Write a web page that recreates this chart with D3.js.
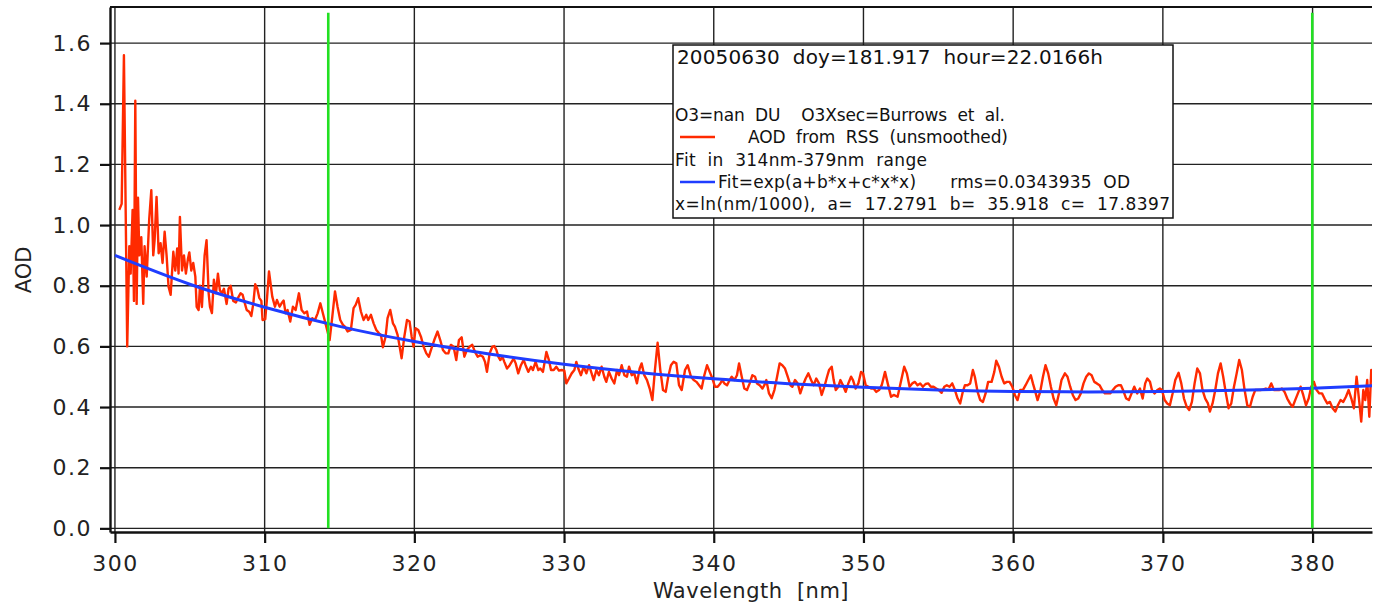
<!DOCTYPE html>
<html>
<head>
<meta charset="utf-8">
<script src="https://cdn.jsdelivr.net/npm/d3@7"></script>
<style>
  body { margin: 0; background: #fff; }
  svg { display: block; font-family: "DejaVu Sans", sans-serif; }
</style>
</head>
<body>
<div id="chart"></div>
<script>
// AOD from RSS (unsmoothed), [wavelength nm, AOD]
const rss = [
  [300.29,1.05],[300.45,1.07],[300.60,1.56],[300.82,0.60],[300.96,0.93],[301.05,0.84],[301.18,1.05],[301.27,0.75],
  [301.36,1.41],[301.45,0.74],[301.54,1.09],[301.63,0.90],[301.76,0.96],[301.89,0.74],[301.98,0.93],[302.12,0.83],
  [302.29,1.02],[302.43,1.115],[302.56,0.90],[302.65,0.95],[302.78,1.093],[302.92,0.907],[303.05,0.94],[303.18,0.875],
  [303.32,0.978],[303.45,0.90],[303.58,0.797],[303.72,0.77],[303.90,0.912],[304.03,0.85],[304.16,0.923],[304.25,0.84],
  [304.34,1.027],[304.48,0.85],[304.61,0.90],[304.74,0.84],[304.88,0.89],[304.97,0.91],[305.10,0.85],[305.23,0.875],
  [305.37,0.83],[305.46,0.73],[305.59,0.72],[305.68,0.80],[305.81,0.73],[305.99,0.90],[306.12,0.95],[306.26,0.775],
  [306.35,0.73],[306.48,0.71],[306.61,0.82],[306.75,0.775],[306.88,0.84],[307.01,0.785],[307.15,0.775],[307.28,0.79],
  [307.46,0.74],[307.59,0.79],[307.73,0.80],[307.90,0.75],[308.08,0.745],[308.22,0.76],[308.39,0.775],[308.53,0.77],
  [308.66,0.745],[308.80,0.72],[308.97,0.714],[309.11,0.70],[309.24,0.74],[309.37,0.805],[309.51,0.79],[309.64,0.76],
  [309.78,0.75],[309.86,0.687],[310.04,0.69],
  [310.16,0.76],[310.29,0.847],[310.51,0.764],[310.69,0.731],[310.82,0.753],[311.00,0.731],[311.13,0.742],[311.27,0.751],
  [311.40,0.709],[311.53,0.720],[311.71,0.682],[311.89,0.731],[312.07,0.720],[312.29,0.775],[312.47,0.720],[312.65,0.709],
  [312.83,0.715],[313.00,0.671],[313.18,0.693],[313.36,0.687],[313.54,0.709],[313.72,0.742],[313.89,0.709],[314.12,0.665],
  [314.34,0.621],[314.52,0.698],[314.70,0.781],[314.87,0.731],[315.05,0.687],[315.23,0.671],[315.36,0.665],[315.54,0.649],
  [315.76,0.654],[315.94,0.726],[316.08,0.737],[316.25,0.759],[316.43,0.715],[316.61,0.687],[316.79,0.704],[316.92,0.687],
  [317.10,0.704],[317.28,0.676],[317.46,0.654],[317.64,0.643],[317.77,0.638],[317.90,0.597],[318.08,0.632],[318.21,0.693],
  [318.39,0.720],[318.57,0.676],[318.70,0.665],[318.88,0.638],[319.02,0.599],[319.15,0.561],[319.33,0.632],[319.51,0.687],
  [319.68,0.682],[319.82,0.632],[319.95,0.599],[320.08,0.660],[320.26,0.654],[320.44,0.632],[320.62,0.599],[320.80,0.577],
  [320.97,0.566],[321.15,0.594],[321.33,0.621],[321.55,0.649],[321.73,0.621],[321.91,0.588],[322.09,0.577],[322.27,0.577],
  [322.44,0.605],[322.62,0.599],[322.80,0.555],[322.98,0.621],[323.16,0.630],[323.34,0.566],[323.51,0.588],[323.69,0.599],
  [323.87,0.605],
  [324.05,0.582],[324.23,0.566],[324.41,0.571],[324.58,0.566],[324.72,0.549],[324.85,0.516],[325.03,0.577],[325.21,0.599],
  [325.34,0.601],[325.48,0.588],[325.61,0.566],[325.74,0.555],[325.88,0.566],[326.01,0.549],[326.19,0.527],[326.37,0.538],
  [326.50,0.549],[326.63,0.560],[326.77,0.544],[326.94,0.511],[327.12,0.538],[327.30,0.555],[327.43,0.538],[327.61,0.516],
  [327.79,0.533],[327.92,0.522],[328.10,0.549],[328.28,0.522],[328.41,0.527],[328.59,0.516],[328.82,0.582],[328.99,0.555],
  [329.13,0.522],[329.31,0.522],[329.48,0.533],[329.66,0.520],[329.84,0.522],[330.02,0.520],[330.15,0.478],[330.33,0.494],
  [330.51,0.511],[330.69,0.522],[330.82,0.549],[330.95,0.527],[331.13,0.505],[331.31,0.533],[331.49,0.511],[331.67,0.538],
  [331.84,0.511],[331.98,0.489],[332.16,0.522],[332.33,0.505],[332.51,0.533],[332.69,0.500],[332.82,0.483],[333.00,0.516],
  [333.18,0.494],[333.36,0.478],[333.54,0.522],[333.67,0.505],[333.85,0.538],[334.03,0.505],[334.20,0.500],[334.34,0.533],
  [334.52,0.505],[334.69,0.511],[334.87,0.478],[335.05,0.527],[335.18,0.544],[335.36,0.505],[335.54,0.489],[335.72,0.461],
  [335.90,0.423],[336.07,0.522],[336.25,0.612],[336.43,0.522],[336.61,0.456],[336.79,0.450],[336.96,0.500],[337.14,0.538],
  [337.32,0.549],[337.50,0.544],[337.68,0.472],[337.86,0.456],[338.08,0.522],[338.26,0.538],
  [338.48,0.500],[338.66,0.489],[338.84,0.483],[339.02,0.472],[339.19,0.461],[339.37,0.505],[339.55,0.538],[339.73,0.516],
  [339.91,0.494],[340.08,0.467],[340.26,0.467],[340.44,0.478],[340.57,0.489],[340.71,0.478],[340.89,0.472],[341.06,0.489],
  [341.20,0.500],[341.38,0.489],[341.55,0.505],[341.69,0.544],[341.87,0.500],[342.04,0.461],[342.22,0.456],[342.40,0.478],
  [342.58,0.505],[342.76,0.500],[342.89,0.478],[343.07,0.472],[343.25,0.461],[343.38,0.472],[343.51,0.489],[343.69,0.445],
  [343.87,0.429],[344.05,0.456],[344.23,0.500],[344.40,0.544],[344.58,0.538],[344.76,0.527],[344.94,0.500],[345.12,0.472],
  [345.25,0.467],[345.43,0.489],[345.61,0.478],[345.78,0.445],[345.96,0.472],[346.14,0.494],[346.32,0.511],[346.50,0.489],
  [346.67,0.472],[346.85,0.494],[347.03,0.478],[347.21,0.440],[347.39,0.467],[347.57,0.500],[347.70,0.522],[347.88,0.533],
  [348.01,0.489],[348.15,0.456],[348.32,0.467],[348.46,0.489],[348.63,0.472],[348.81,0.450],[348.99,0.478],[349.17,0.500],
  [349.30,0.489],[349.48,0.461],[349.66,0.478],[349.84,0.516],[349.97,0.511],[350.15,0.472],[350.33,0.467],[350.51,0.461],
  [350.68,0.461],[350.86,0.450],[351.04,0.456],[351.22,0.472],[351.44,0.516],[351.62,0.478],[351.84,0.434],[352.02,0.440],
  [352.28,0.434],[352.72,0.533],[352.90,0.511],[353.08,0.467],[353.26,0.478],[353.44,0.483],[353.61,0.472],[353.79,0.478],
  [353.97,0.467],[354.15,0.476],[354.33,0.478],[354.50,0.467],[354.68,0.467],[354.86,0.461],[355.04,0.456],[355.22,0.447],
  [355.40,0.467],[355.57,0.472],[355.75,0.467],[355.93,0.478],[356.11,0.456],[356.29,0.428],[356.46,0.412],[356.64,0.451],
  [356.78,0.472],[356.95,0.472],[357.13,0.478],[357.31,0.522],[357.44,0.500],[357.62,0.451],[357.80,0.423],[357.98,0.417],
  [358.16,0.445],[358.33,0.483],[358.56,0.483],[358.74,0.516],[358.87,0.553],[359.05,0.533],[359.23,0.500],[359.40,0.478],
  [359.58,0.483],[359.76,0.483],[359.94,0.467],[360.12,0.439],[360.29,0.423],[360.47,0.456],[360.65,0.456],[360.83,0.472],
  [361.01,0.489],[361.18,0.505],[361.32,0.478],[361.45,0.456],[361.63,0.423],[361.81,0.451],[361.99,0.500],[362.16,0.538],
  [362.34,0.511],[362.52,0.467],[362.70,0.428],[362.88,0.406],[363.06,0.445],[363.23,0.489],[363.46,0.511],[363.63,0.500],
  [363.81,0.467],[363.99,0.439],[364.17,0.423],[364.35,0.428],[364.52,0.445],[364.70,0.478],[364.88,0.500],[365.06,0.511],
  [365.24,0.505],[365.42,0.483],[365.59,0.478],[365.77,0.472],[365.95,0.456],[366.13,0.445],[366.31,0.445],[366.48,0.445],
  [366.66,0.456],[366.84,0.467],[367.02,0.472],[367.20,0.472],[367.38,0.451],[367.55,0.428],[367.73,0.423],[367.91,0.445],
  [368.09,0.467],
  [368.29,0.445],[368.47,0.461],[368.65,0.428],[368.82,0.478],[368.96,0.494],[369.14,0.483],[369.27,0.456],[369.45,0.445],
  [369.63,0.456],[369.80,0.461],[369.94,0.456],[370.12,0.423],[370.29,0.412],[370.47,0.406],[370.65,0.445],[370.83,0.489],
  [371.05,0.513],[371.23,0.478],[371.41,0.428],[371.59,0.401],[371.76,0.390],[371.94,0.417],[372.12,0.478],[372.30,0.527],
  [372.48,0.511],[372.65,0.456],[372.83,0.428],[373.01,0.412],[373.14,0.385],[373.32,0.412],[373.50,0.456],[373.68,0.511],
  [373.86,0.544],[374.03,0.500],[374.21,0.445],[374.39,0.396],[374.57,0.412],[374.75,0.467],[374.93,0.511],[375.10,0.555],
  [375.28,0.522],[375.46,0.456],[375.64,0.406],[375.82,0.401],[376.00,0.434],[376.17,0.456],[376.35,0.456],[376.53,0.456],
  [376.71,0.458],[376.88,0.461],[377.06,0.458],[377.24,0.478],[377.42,0.456],[377.60,0.456],[377.78,0.456],[377.95,0.461],
  [378.13,0.450],[378.31,0.428],[378.49,0.412],[378.67,0.401],[378.84,0.423],[379.02,0.445],[379.20,0.467],[379.38,0.439],
  [379.56,0.406],[379.74,0.428],[379.91,0.467],[380.09,0.483],[380.27,0.456],[380.45,0.445],[380.63,0.445],[380.80,0.428],
  [380.98,0.412],[381.16,0.417],[381.34,0.396],[381.52,0.385],[381.69,0.406],[381.87,0.423],[382.05,0.417],[382.23,0.434],
  [382.41,0.456],[382.59,0.428],[382.76,0.396],[382.94,0.500],[383.12,0.417],[383.25,0.352],[383.39,0.456],[383.52,0.423],
  [383.65,0.489],[383.79,0.368],[383.92,0.522],[384.05,0.511]
];

// fit curve exp(a+b*x+c*x*x), values read every 5 nm
const fitWl = [300, 305, 310, 315, 320, 325, 330, 335, 340, 345, 350, 355, 360, 365, 370, 375, 380, 385];
const fitAod = [0.900, 0.805, 0.729, 0.666, 0.616, 0.575, 0.541, 0.514, 0.493, 0.477, 0.465, 0.456, 0.451, 0.450, 0.451, 0.455, 0.462, 0.472];

// green markers = fit range edges
const fitRange = [314.25, 379.98];

const xTicks = [300, 310, 320, 330, 340, 350, 360, 370, 380];
const yTicks = [0, 0.2, 0.4, 0.6, 0.8, 1.0, 1.2, 1.4, 1.6];

const legendTitle = "20050630  doy=181.917  hour=22.0166h";
const legendText = [
  "O3=nan  DU    O3Xsec=Burrows  et  al.",
  "AOD  from  RSS  (unsmoothed)",
  "Fit  in  314nm-379nm  range",
  "Fit=exp(a+b*x+c*x*x)      rms=0.0343935  OD",
  "x=ln(nm/1000),  a=  17.2791  b=  35.918  c=  17.8397"
];

const width = 1374, height = 606;
const plot = { left: 110, right: 1372, top: 7, bottom: 532 };

const svg = d3.select("#chart").append("svg")
  .attr("width", width)
  .attr("height", height);

svg.append("rect").attr("width", width).attr("height", height).attr("fill", "#fff");

const x = d3.scaleLinear().domain([299.67, 383.97]).range([plot.left, plot.right]);
const y = d3.scaleLinear().domain([-0.012, 1.719]).range([plot.bottom, plot.top]);

svg.append("clipPath").attr("id", "clip")
  .append("rect")
  .attr("x", plot.left).attr("y", plot.top)
  .attr("width", plot.right - plot.left).attr("height", plot.bottom - plot.top);

// grid
const grid = svg.append("g").attr("stroke", "#222").attr("stroke-width", 1.4);
grid.selectAll(".hg").data(yTicks).join("line")
  .attr("x1", plot.left).attr("x2", plot.right)
  .attr("y1", d => y(d)).attr("y2", d => y(d));
grid.selectAll(".vg").data(xTicks).join("line")
  .attr("y1", plot.top).attr("y2", plot.bottom)
  .attr("x1", d => x(d)).attr("x2", d => x(d));

// frame top
svg.append("line")
  .attr("x1", plot.left).attr("x2", plot.right)
  .attr("y1", plot.top).attr("y2", plot.top)
  .attr("stroke", "#111").attr("stroke-width", 2.2);

// axes
const axisY = svg.append("g")
  .attr("transform", `translate(${plot.left},0)`)
  .call(d3.axisLeft(y).tickValues(yTicks).tickFormat(d3.format(".1f")).tickSize(10).tickSizeOuter(0).tickPadding(8));
const axisX = svg.append("g")
  .attr("transform", `translate(0,${plot.bottom})`)
  .call(d3.axisBottom(x).tickValues(xTicks).tickFormat(d3.format("d")).tickSize(11).tickSizeOuter(0).tickPadding(12));

[axisY, axisX].forEach(a => {
  a.attr("font-size", 22).attr("font-family", "DejaVu Sans");
  a.select(".domain").attr("stroke", "#111").attr("stroke-width", 2.4);
  a.selectAll(".tick line").attr("stroke", "#111").attr("stroke-width", 2.2);
  a.selectAll(".tick text")
    .attr("fill", "#222")
    .style("letter-spacing", "1.5px");
});

svg.append("text")
  .attr("transform", `translate(31,270) rotate(-90)`)
  .attr("text-anchor", "middle")
  .attr("font-size", 21)
  .attr("fill", "#222")
  .text("AOD");
svg.append("text")
  .attr("x", 751).attr("y", 598)
  .attr("text-anchor", "middle")
  .attr("font-size", 21)
  .style("letter-spacing", "0.5px")
  .style("white-space", "pre")
  .attr("fill", "#222")
  .text("Wavelength  [nm]");

// data
const lines = svg.append("g").attr("clip-path", "url(#clip)");

lines.append("path")
  .datum(rss)
  .attr("fill", "none")
  .attr("stroke", "#ff2a00")
  .attr("stroke-width", 2.4)
  .attr("stroke-linejoin", "round")
  .attr("d", d3.line().x(d => x(d[0])).y(d => y(d[1])));

lines.append("path")
  .datum(d3.zip(fitWl, fitAod))
  .attr("fill", "none")
  .attr("stroke", "#1f3dff")
  .attr("stroke-width", 3)
  .attr("d", d3.line().curve(d3.curveMonotoneX).x(d => x(d[0])).y(d => y(d[1])));

lines.selectAll(".range").data(fitRange).join("line")
  .attr("x1", d => x(d)).attr("x2", d => x(d))
  .attr("y1", y(0)).attr("y2", y(1.70))
  .attr("stroke", "#22e022")
  .attr("stroke-width", 2.6);

// legend box
const lg = svg.append("g");
lg.append("rect")
  .attr("x", 673).attr("y", 45)
  .attr("width", 500).attr("height", 173)
  .attr("fill", "#fff")
  .attr("stroke", "#111")
  .attr("stroke-width", 1.5);
lg.append("text")
  .attr("x", 677).attr("y", 64)
  .attr("font-size", 20)
  .attr("textLength", 426)
  .attr("lengthAdjust", "spacing")
  .style("white-space", "pre")
  .attr("fill", "#111")
  .text(legendTitle);

const textX = [675, 748, 675, 718, 675];
const textW = [330, 260, 252, 412, 495];
lg.selectAll(".lt").data(legendText).join("text")
  .attr("x", (d, i) => textX[i])
  .attr("y", (d, i) => 121 + i * 22.3)
  .attr("font-size", 17)
  .attr("textLength", (d, i) => textW[i])
  .attr("lengthAdjust", "spacing")
  .style("white-space", "pre")
  .attr("fill", "#111")
  .text(d => d);

lg.append("line")
  .attr("x1", 680).attr("x2", 715).attr("y1", 137).attr("y2", 137)
  .attr("stroke", "#ff2a00").attr("stroke-width", 2.4);
lg.append("line")
  .attr("x1", 680).attr("x2", 715).attr("y1", 182).attr("y2", 182)
  .attr("stroke", "#1f3dff").attr("stroke-width", 2.4);
</script>
</body>
</html>
